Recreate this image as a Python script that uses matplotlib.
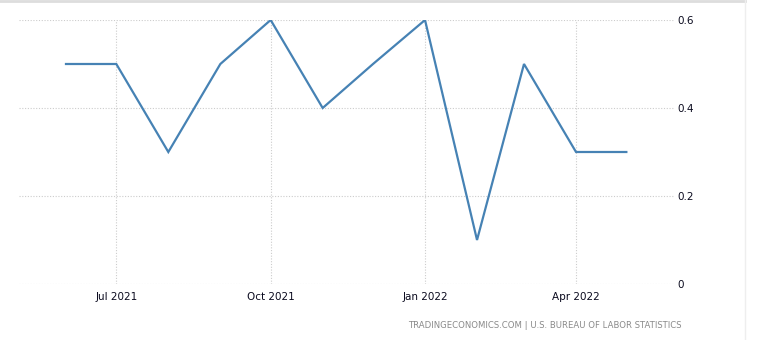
import matplotlib.pyplot as plt
import pandas as pd

months = pd.date_range("2021-06-01", "2022-05-01", freq="MS")
values = [0.5, 0.5, 0.3, 0.5, 0.6, 0.4, 0.5, 0.6, 0.1, 0.5, 0.3, 0.3]
tick_dates = pd.to_datetime(["2021-07-01", "2021-10-01", "2022-01-01", "2022-04-01"])
tick_labels = ["Jul 2021", "Oct 2021", "Jan 2022", "Apr 2022"]
y_ticks = [0, 0.2, 0.4, 0.6]
y_labels = ["0", "0.2", "0.4", "0.6"]
source = "TRADINGECONOMICS.COM | U.S. BUREAU OF LABOR STATISTICS"

W, H = 759, 340
fig = plt.figure(figsize=(W / 100, H / 100), dpi=100)
ax = fig.add_axes([19 / W, 1 - 284 / H, (675 - 19) / W, (284 - 20) / H])

ax.plot(months, values, color="#4682b4", linewidth=1.6, solid_joinstyle="miter")

ax.set_xlim(pd.Timestamp("2021-05-04"), pd.Timestamp("2022-05-30"))
ax.set_ylim(0, 0.6)
ax.set_xticks(tick_dates)
ax.set_xticklabels(tick_labels)
ax.set_yticks(y_ticks)
ax.set_yticklabels(y_labels)
ax.yaxis.tick_right()

ax.grid(True, color="#cccccc", linestyle=(0, (1, 1.5)), linewidth=0.8)
for s in ax.spines.values():
    s.set_visible(False)
ax.tick_params(length=0, labelsize=7.5, labelcolor="#0a0a1e")
ax.tick_params(axis="x", pad=6)
ax.tick_params(axis="y", pad=2)

fig.text(682 / W, 1 - 326 / H, source, ha="right", va="center", fontsize=6.1, color="#8a8a8a")

# light frame at top and right
fig.add_artist(plt.Line2D([0, 745 / W], [1 - 1 / H, 1 - 1 / H], color="#dddddd", linewidth=2,
                          transform=fig.transFigure))
fig.add_artist(plt.Line2D([745 / W, 745 / W], [0, 1], color="#eeeeee", linewidth=1,
                          transform=fig.transFigure))

fig.savefig("out.png", dpi=100)
